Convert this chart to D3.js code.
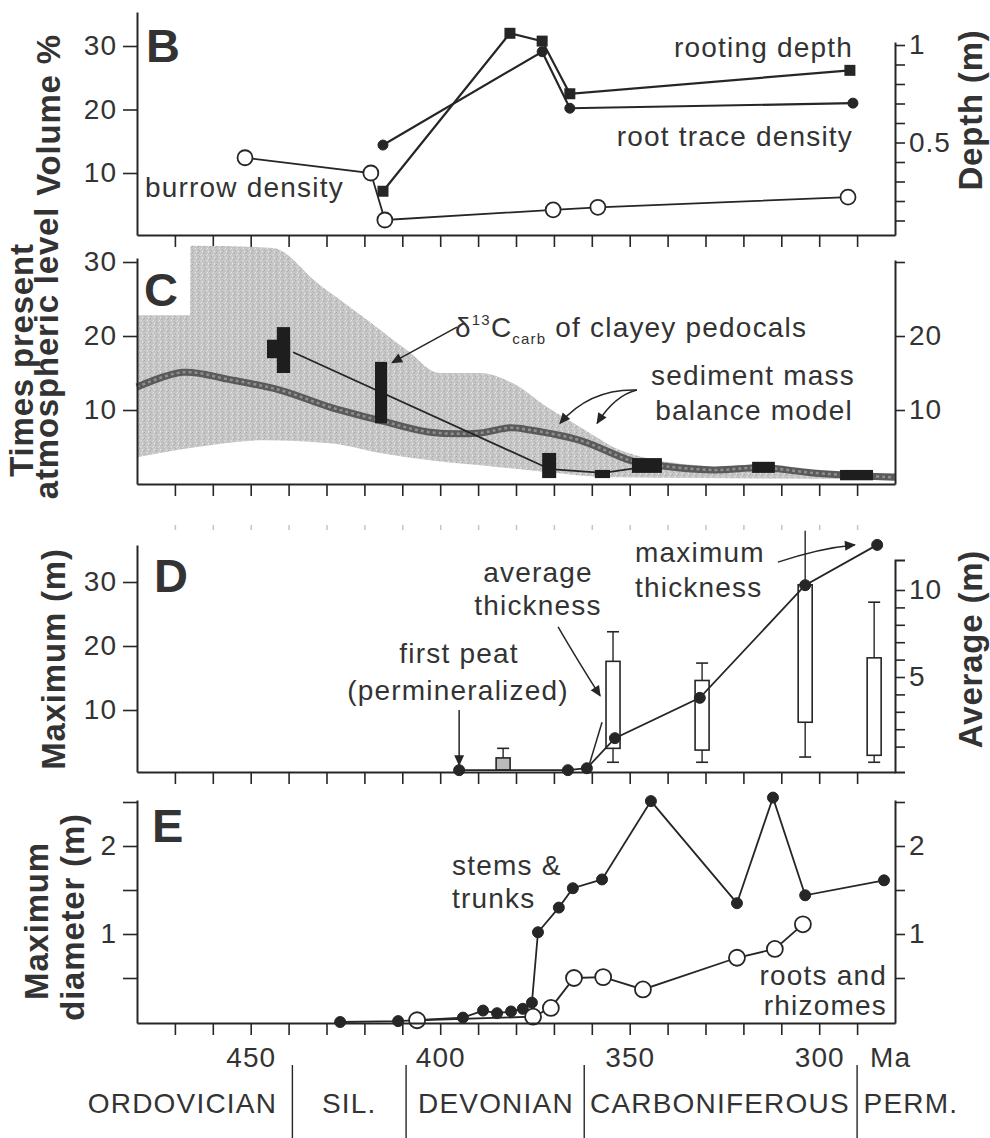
<!DOCTYPE html>
<html>
<head>
<meta charset="utf-8">
<script src="https://d3js.org/d3.v7.min.js"></script>
<style>
body { margin: 0; background: #fff; }
text { font-family: "Liberation Sans", Arial, Helvetica, sans-serif; fill: #333; }
</style>
</head>
<body>
<div id="chart"></div>
<script>
// ---------- data (ages in Ma) ----------
var ageTicks = d3.range(470, 280, -10);
var ageLabels = [450, 400, 350, 300];
var periodNames = ["ORDOVICIAN", "SIL.", "DEVONIAN", "CARBONIFEROUS", "PERM."];
var periodLabelAge = [468, 424, 385.3, 326.2, 275.8];
var periodBounds = [439, 409, 362, 290];

// B: soils
var burrowAge = [451.5, 418.3, 414.6, 370.2, 358.4, 292.4];
var burrowVol = [12.4, 10.0, 2.6, 4.2, 4.6, 6.2];
var rootTraceAge = [415.1, 373.1, 365.8, 291.1];
var rootTraceVol = [14.4, 29.1, 20.2, 21.0];
var rootDepthAge = [415.1, 381.6, 373.1, 365.8, 291.9];
var rootDepthM = [0.25, 1.06, 1.02, 0.75, 0.87];
var volTicks = [10, 20, 30];
var depthTicks = [0.1, 0.2, 0.3, 0.4, 0.5, 0.6, 0.7, 0.8, 0.9, 1];
var depthLabels = [0.5, 1];

// C: CO2
var modelUpperAge = [480, 466.0, 465.9, 444.1, 432.5, 420.4, 408.8, 400.1, 389.5, 380.8, 371.8, 363.1, 352.6, 345.4, 328.0, 310.3, 280];
var modelUpper = [22.8, 22.8, 32.2, 31.9, 27.2, 22.6, 18.1, 15.0, 15.0, 13.6, 10.4, 7.7, 4.6, 3.5, 2.3, 1.6, 1.5];
var modelLowerAge = [480, 464.2, 446.8, 429.1, 415.9, 402.7, 385.0, 371.8, 354.4, 331.4, 280];
var modelLower = [3.6, 5.0, 5.9, 5.5, 4.2, 3.2, 2.3, 1.6, 0.9, 0.8, 0.7];
var modelBestAge = [480, 467.9, 455.5, 442.3, 429.1, 415.9, 402.7, 389.5, 381.6, 376.3, 363.1, 349.9, 343.9, 328.0, 314.8, 301.6, 280];
var modelBest = [13.1, 15.1, 14.1, 12.7, 10.4, 8.6, 7.0, 6.9, 7.6, 7.3, 5.9, 3.2, 2.6, 1.9, 2.2, 1.5, 0.9];
var carbAgeOld = [443.1, 445.7, 417.2, 373.1, 359.2, 349.4, 317.7, 294.5];
var carbAgeYoung = [439.6, 439.6, 414.0, 369.4, 355.2, 341.5, 311.7, 285.8];
var carbLow = [15.0, 17.0, 8.2, 0.8, 0.8, 1.5, 1.5, 0.5];
var carbHigh = [21.2, 19.5, 16.5, 4.2, 1.9, 3.5, 3.0, 1.9];
var carbFitAge = [438.8, 371.0, 357.0, 346.0];
var carbFitVal = [17.8, 2.0, 1.5, 2.3];
var co2Ticks = [10, 20, 30];
var co2RightLabels = [10, 20];

// D: coal thickness
var maxAge = [395.0, 366.3, 361.3, 353.9, 331.5, 303.7, 284.7];
var maxThick = [0.6, 0.6, 0.9, 5.6, 11.9, 29.5, 35.8];
var boxAge = [383.4, 354.4, 330.9, 303.7, 285.5];
var boxWhiskerHi = [0.9, 7.6, 5.8, 13.4, 9.3];
var boxHi = [0.35, 5.9, 4.8, 10.3, 6.1];
var boxLo = [-0.35, 0.9, 0.8, 2.4, 0.5];
var boxWhiskerLo = [-0.35, 0.1, 0.1, 0.4, 0.1];
var meanAge = [354.4, 330.9, 303.7, 285.5];
var meanAvg = [3.7, 2.4, 6.4, 3.3];
var avgTicks = [1, 2, 3, 4, 5, 6, 7, 8, 9, 10];
var avgLabels = [5, 10];

// E: plant diameter
var stemAge = [426.4, 411.1, 394.0, 388.7, 385.0, 381.3, 378.2, 375.8, 374.2, 368.7, 365.0, 357.3, 344.4, 321.7, 312.2, 303.7, 282.9];
var stemDiam = [0.0, 0.01, 0.05, 0.13, 0.10, 0.12, 0.15, 0.22, 1.02, 1.30, 1.52, 1.62, 2.51, 1.35, 2.55, 1.44, 1.61];
var rootAge = [406.1, 375.5, 370.8, 364.7, 357.0, 346.5, 321.7, 311.7, 304.3];
var rootDiam = [0.02, 0.06, 0.16, 0.50, 0.51, 0.37, 0.73, 0.83, 1.11];
var diamTicks = [0.5, 1, 1.5, 2, 2.5];
var diamLabels = [1, 2];

// ---------- setup ----------
var INK = "#262626";
var X0 = 137, X1 = 895;
var x = d3.scaleLinear().domain([480, 280]).range([X0, X1]);

// linear scale through two reference points, domain clipped to panel extent
function fit(v0, p0, v1, p1, top, bottom) {
  var s = d3.scaleLinear().domain([v0, v1]).range([p0, p1]);
  return d3.scaleLinear().domain([s.invert(bottom), s.invert(top)]).range([bottom, top]);
}

var svg = d3.select("#chart").append("svg")
  .attr("width", 990).attr("height", 1138).style("display", "block");
var defs = svg.append("defs");
defs.append("marker").attr("id", "arrow")
  .attr("viewBox", "0 0 10 10").attr("refX", 9).attr("refY", 5)
  .attr("markerWidth", 13).attr("markerHeight", 11)
  .attr("markerUnits", "userSpaceOnUse").attr("orient", "auto")
  .append("path").attr("d", "M0,0.5L10,5L0,9.5Z").attr("fill", INK);

// stipple texture for the model envelope
var pat = defs.append("pattern").attr("id", "stip")
  .attr("width", 6).attr("height", 6).attr("patternUnits", "userSpaceOnUse");
pat.append("rect").attr("width", 6).attr("height", 6).attr("fill", "#c6c6c6");
[[0, 0, "#a4a4a4"], [3, 2, "#e2e2e2"], [1, 4, "#acacac"], [4, 5, "#e8e8e8"],
 [5, 1, "#b2b2b2"], [2, 3, "#d8d8d8"], [4, 0, "#dadada"], [0, 3, "#b8b8b8"]].forEach(function(p) {
  pat.append("rect").attr("x", p[0]).attr("y", p[1]).attr("width", 1).attr("height", 1).attr("fill", p[2]);
});

function styleAxis(g) {
  g.attr("font-family", '"Liberation Sans", Arial, Helvetica, sans-serif')
   .attr("font-size", 28).attr("color", INK);
  g.selectAll(".domain").attr("stroke-width", 2);
  g.selectAll(".tick line").attr("stroke-width", 1.6);
  g.selectAll("text").attr("letter-spacing", 1).attr("fill", "#333");
  return g;
}
function labelFmt(labels) {
  return function(d) { return labels.indexOf(d) >= 0 ? String(d) : ""; };
}
function bottomAxis(yPos, labels) {
  return styleAxis(svg.append("g").attr("transform", "translate(0," + yPos + ")")
    .call(d3.axisBottom(x).tickValues(ageTicks).tickSize(12).tickSizeOuter(0)
      .tickPadding(12).tickFormat(labelFmt(labels || []))));
}
function leftAxis(y, ticks, labels) {
  return styleAxis(svg.append("g").attr("transform", "translate(" + X0 + ",0)")
    .call(d3.axisLeft(y).tickValues(ticks).tickSize(14).tickSizeOuter(0)
      .tickPadding(6).tickFormat(labelFmt(labels))));
}
function rightAxis(y, ticks, labels, outer) {
  return styleAxis(svg.append("g").attr("transform", "translate(" + X1 + ",0)")
    .call(d3.axisRight(y).tickValues(ticks).tickSize(10).tickSizeOuter(outer || 0)
      .tickPadding(4).tickFormat(labelFmt(labels))));
}
function vtitle(xb, yc, s) {
  svg.append("text").attr("transform", "translate(" + xb + "," + yc + ") rotate(-90)")
    .attr("text-anchor", "middle").attr("font-weight", "bold").attr("font-size", 33)
    .attr("letter-spacing", 0.8).attr("fill", "#2a2a2a").text(s);
}
function note(xp, yp, s, anchor) {
  return svg.append("text").attr("x", xp).attr("y", yp).attr("font-size", 28)
    .attr("letter-spacing", 1.2).attr("text-anchor", anchor || "start").attr("fill", "#3a3a3a").text(s);
}
function letter(xp, yp, s) {
  svg.append("text").attr("x", xp).attr("y", yp).attr("font-size", 47)
    .attr("font-weight", "bold").attr("fill", "#222").text(s);
}
function series(ages, vals, y, width) {
  svg.append("path").datum(d3.zip(ages, vals))
    .attr("fill", "none").attr("stroke", INK).attr("stroke-width", width || 1.8)
    .attr("d", d3.line().x(function(d) { return x(d[0]); }).y(function(d) { return y(d[1]); }));
}
function dots(ages, vals, y, r, open) {
  svg.append("g").selectAll("circle").data(d3.zip(ages, vals)).enter().append("circle")
    .attr("cx", function(d) { return x(d[0]); }).attr("cy", function(d) { return y(d[1]); })
    .attr("r", r)
    .attr("fill", open ? "#fff" : INK).attr("stroke", INK).attr("stroke-width", open ? 1.8 : 1);
}
function arrow(pts, y, head, ctrl) {
  var a = [x(pts[0][0]), y(pts[0][1])], b = [x(pts[1][0]), y(pts[1][1])];
  var d = "M" + a[0] + "," + a[1];
  if (ctrl) d += "Q" + x(ctrl[0]) + "," + y(ctrl[1]) + "," + b[0] + "," + b[1];
  else d += "L" + b[0] + "," + b[1];
  var p = svg.append("path").attr("d", d).attr("fill", "none")
    .attr("stroke", INK).attr("stroke-width", 1.5);
  if (head) p.attr("marker-end", "url(#arrow)");
}

// ---------- B ----------
var yB = fit(10, 173, 30, 46, 12, 235);
var yBd = fit(0, 240, 1, 45, 42, 235);

series(burrowAge, burrowVol, yB);
series(rootTraceAge, rootTraceVol, yB, 2.2);
series(rootDepthAge, rootDepthM, yBd, 2.2);
dots(rootTraceAge, rootTraceVol, yB, 5, false);
svg.append("g").selectAll("rect").data(d3.zip(rootDepthAge, rootDepthM)).enter().append("rect")
  .attr("x", function(d) { return x(d[0]) - 5.5; }).attr("y", function(d) { return yBd(d[1]) - 5.5; })
  .attr("width", 11).attr("height", 11).attr("fill", INK);
dots(burrowAge, burrowVol, yB, 7.5, true);

bottomAxis(235);
leftAxis(yB, volTicks, volTicks);
rightAxis(yBd, depthTicks, depthLabels);
letter(146, 62, "B");
note(853, 57, "rooting depth", "end");
note(853, 146, "root trace density", "end");
note(145, 197, "burrow density");
vtitle(60, 115, "Volume %");
vtitle(982, 110, "Depth (m)");

// ---------- C ----------
var yC = fit(10, 410, 30, 262, 258, 484);
var yCr = fit(10, 410, 30, 262, 260, 484);

var edge = d3.line().curve(d3.curveMonotoneX)
  .x(function(d) { return x(d[0]); }).y(function(d) { return yC(d[1]); });
var upperPath = edge(d3.zip(modelUpperAge, modelUpper));
var lowerPath = edge(d3.zip(modelLowerAge, modelLower).reverse());
svg.append("path").attr("fill", "url(#stip)")
  .attr("d", upperPath + "L" + lowerPath.slice(1) + "Z");

var bestLine = d3.line().curve(d3.curveCatmullRom)
  .x(function(d) { return x(d[0]); }).y(function(d) { return yC(d[1]); });
svg.append("path").datum(d3.zip(modelBestAge, modelBest)).attr("fill", "none")
  .attr("stroke", "#5a5a5a").attr("stroke-width", 7).attr("d", bestLine);
svg.append("path").datum(d3.zip(modelBestAge, modelBest)).attr("fill", "none")
  .attr("stroke", "#8e8e8e").attr("stroke-width", 2.5).attr("stroke-dasharray", "3,3").attr("d", bestLine);

series(carbFitAge, carbFitVal, yC, 1.8);
svg.append("g").selectAll("rect").data(d3.range(carbAgeOld.length)).enter().append("rect")
  .attr("x", function(i) { return x(carbAgeOld[i]); })
  .attr("width", function(i) { return x(carbAgeYoung[i]) - x(carbAgeOld[i]); })
  .attr("y", function(i) { return yC(carbHigh[i]); })
  .attr("height", function(i) { return yC(carbLow[i]) - yC(carbHigh[i]); })
  .attr("fill", "#1e1e1e");

bottomAxis(484);
leftAxis(yC, co2Ticks, co2Ticks);
rightAxis(yCr, co2Ticks, co2RightLabels);
letter(144, 306, "C");

var dl = svg.append("text").attr("x", 455).attr("y", 337).attr("font-size", 28)
  .attr("letter-spacing", 1.2).attr("fill", "#3a3a3a");
dl.append("tspan").text("δ");
dl.append("tspan").attr("font-size", 15).attr("dy", -12).text("13");
dl.append("tspan").attr("dy", 12).text("C");
dl.append("tspan").attr("font-size", 15).attr("dy", 7).text("carb");
dl.append("tspan").attr("dy", -7).text(" of clayey pedocals");
arrow([[395.6, 21.2], [412.7, 16.4]], yC, true);

note(855, 385, "sediment mass", "end");
note(853, 420, "balance model", "end");
arrow([[348.1, 12.7], [368.4, 8.2]], yC, true, [360.5, 12.9]);
arrow([[348.1, 12.7], [358.6, 8.2]], yC, true, [353.9, 12.0]);

vtitle(33, 360, "Times present");
vtitle(58, 353, "atmospheric level");

// faint tick row between C and D
var faint = svg.append("g").attr("transform", "translate(0,525)")
  .call(d3.axisBottom(x).tickValues(ageTicks).tickSize(5).tickFormat(""));
faint.select(".domain").remove();
faint.attr("color", "#c4c4c4").selectAll("line").attr("stroke-width", 1.5);

// ---------- D ----------
var yD = fit(10, 710, 30, 582, 545, 772);
var yDa = fit(5, 677, 10, 590, 560, 772);

// average-thickness connector, broken at the boxes
for (var i = 0; i < meanAge.length - 1; i++) {
  var p0 = [x(meanAge[i]), yDa(meanAvg[i])], p1 = [x(meanAge[i + 1]), yDa(meanAvg[i + 1])];
  var ip = d3.interpolate(p0, p1), len = p1[0] - p0[0], gap = 14 / len;
  var a0 = ip(gap), a1 = ip(1 - gap);
  svg.append("line").attr("x1", a0[0]).attr("y1", a0[1]).attr("x2", a1[0]).attr("y2", a1[1])
    .attr("stroke", INK).attr("stroke-width", 1.6);
}
var bx = svg.append("g").selectAll("g").data(d3.range(boxAge.length)).enter().append("g");
bx.append("line")
  .attr("x1", function(i) { return x(boxAge[i]); }).attr("x2", function(i) { return x(boxAge[i]); })
  .attr("y1", function(i) { return yDa(boxWhiskerHi[i]); })
  .attr("y2", function(i) { return yDa(boxWhiskerLo[i]); })
  .attr("stroke", INK).attr("stroke-width", 1.4);
bx.filter(function(i) { return i !== 3; }).append("line")
  .attr("x1", function(i) { return x(boxAge[i]) - 6; }).attr("x2", function(i) { return x(boxAge[i]) + 6; })
  .attr("y1", function(i) { return yDa(boxWhiskerHi[i]); }).attr("y2", function(i) { return yDa(boxWhiskerHi[i]); })
  .attr("stroke", INK).attr("stroke-width", 1.6);
bx.append("line")
  .attr("x1", function(i) { return x(boxAge[i]) - 6; }).attr("x2", function(i) { return x(boxAge[i]) + 6; })
  .attr("y1", function(i) { return yDa(boxWhiskerLo[i]); }).attr("y2", function(i) { return yDa(boxWhiskerLo[i]); })
  .attr("stroke", INK).attr("stroke-width", 1.6);
bx.append("rect")
  .attr("x", function(i) { return x(boxAge[i]) - 7; }).attr("width", 14)
  .attr("y", function(i) { return yDa(boxHi[i]); })
  .attr("height", function(i) { return yDa(boxLo[i]) - yDa(boxHi[i]); })
  .attr("fill", function(i) { return i === 0 ? "#bbb" : "#fff"; })
  .attr("stroke", INK).attr("stroke-width", 1.6);

series(maxAge, maxThick, yD, 1.8);
dots(maxAge, maxThick, yD, 5.5, false);

bottomAxis(772);
leftAxis(yD, co2Ticks, co2Ticks);
rightAxis(yDa, avgTicks, avgLabels, 10);
letter(154, 592, "D");

note(459, 663, "first peat", "middle");
note(458, 700, "(permineralized)", "middle");
arrow([[395, 10.0], [395, 1.4]], yD, true);
note(538, 582, "average", "middle");
note(538, 615, "thickness", "middle");
arrow([[368.9, 23.0], [357.8, 12.2]], yD, true, [364.0, 18.0]);
arrow([[360.7, 1.4], [357.3, 8.1]], yD, false);
note(635, 562, "maximum");
note(635, 597, "thickness");
arrow([[310.9, 33.1], [290.6, 35.8]], yD, true, [300, 35.3]);

vtitle(65, 659, "Maximum (m)");
vtitle(982, 649, "Average (m)");

// ---------- E ----------
var yE = fit(1, 934, 2, 846, 800, 1023);

series(stemAge, stemDiam, yE, 1.8);
series(rootAge, rootDiam, yE, 1.8);
dots(stemAge, stemDiam, yE, 5.5, false);
dots(rootAge, rootDiam, yE, 8, true);

bottomAxis(1023, ageLabels);
leftAxis(yE, diamTicks, diamLabels);
rightAxis(yE, diamTicks, diamLabels);
letter(152, 842, "E");
note(452, 875, "stems &");
note(452, 908, "trunks");
note(887, 985, "roots and", "end");
note(887, 1015, "rhizomes", "end");
note(870, 1067, "Ma");
vtitle(48, 921, "Maximum");
vtitle(84, 917, "diameter (m)");

// ---------- periods ----------
svg.append("g").selectAll("text").data(d3.range(periodNames.length)).enter().append("text")
  .attr("x", function(i) { return x(periodLabelAge[i]); }).attr("y", 1113)
  .attr("text-anchor", "middle").attr("font-size", 28).attr("letter-spacing", 1.2)
  .attr("fill", "#3a3a3a").text(function(i) { return periodNames[i]; });
svg.append("g").selectAll("line").data(periodBounds).enter().append("line")
  .attr("x1", function(d) { return x(d); }).attr("x2", function(d) { return x(d); })
  .attr("y1", 1065).attr("y2", 1138).attr("stroke", INK).attr("stroke-width", 1.4);
</script>
</body>
</html>
